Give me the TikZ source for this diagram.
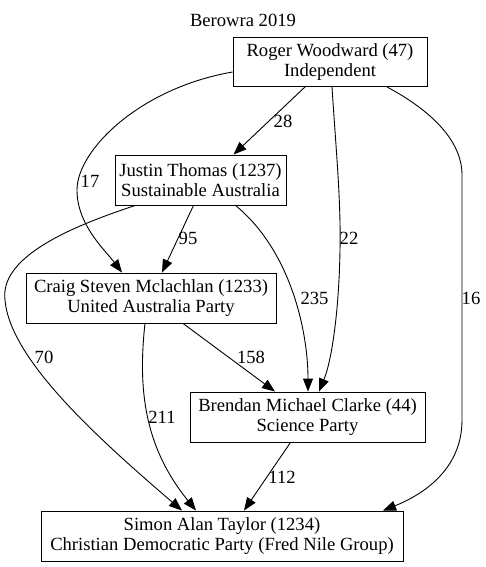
\documentclass[tikz,border=0pt]{standalone}
\usepackage{fontspec}
\setmainfont{Liberation Serif}
\newfontfamily\tnr{Liberation Serif}
\usetikzlibrary{arrows.meta}
\tikzset{
  cand/.style={draw, line width=0.9pt, rectangle, align=center, inner sep=0pt,
    font=\tnr\fontsize{18.6}{20.5}\selectfont},
  lbl/.style={inner sep=0pt, font=\tnr\fontsize{18.6}{20.5}\selectfont},
  edge/.style={line width=0.9pt, -{Triangle[length=13pt,width=10pt]}}
}
\begin{document}
\begin{tikzpicture}[x=1pt,y=-1pt]
\useasboundingbox (0,0) rectangle (486,567);
\node[lbl] (title) at (243,20) {Berowra 2019};
\node[cand, minimum width=194pt, minimum height=49pt] (roger) at (330,62) {Roger Woodward (47)\\Independent};
\node[cand, minimum width=171pt, minimum height=50pt] (justin) at (200.5,180) {Justin Thomas (1237)\\Sustainable Australia};
\node[cand, minimum width=250pt, minimum height=50pt] (craig) at (151,298) {Craig Steven Mclachlan (1233)\\United Australia Party};
\node[cand, minimum width=235pt, minimum height=50pt] (brendan) at (307.5,417) {Brendan Michael Clarke (44)\\Science Party};
\node[cand, minimum width=362pt, minimum height=50pt] (simon) at (222,536) {Simon Alan Taylor (1234)\\Christian Democratic Party (Fred Nile Group)};

% edges
\draw[edge] ([xshift=-25pt]roger.south) -- ([xshift=33pt]justin.north);
\draw[edge] ([yshift=-10pt]roger.west) .. controls (140,88) and (77,150) .. (77,190)
  .. controls (77,225) and (105,250) .. ([xshift=-29pt]craig.north);
\draw[edge] ([xshift=2pt]roger.south) .. controls (336,150) and (341,200) .. (340,250)
  .. controls (339,310) and (332,360) .. ([xshift=11.5pt]brendan.north);
\draw[edge] ([xshift=57pt]roger.south) .. controls (430,110) and (462,140) .. (462,175)
  -- (462,420) .. controls (462,470) and (422,495) .. ([xshift=161pt]simon.north);
\draw[edge] ([xshift=-7pt]justin.south) -- ([xshift=11pt]craig.north);
\draw[edge] ([xshift=35pt]justin.south) .. controls (290,250) and (308,330) .. ([xshift=0.5pt]brendan.north);
\draw[edge] ([xshift=-65pt]justin.south) .. controls (60,230) and (0,260) .. (5,300)
  .. controls (10,360) and (100,440) .. ([xshift=-40pt]simon.north);
\draw[edge] ([xshift=32pt]craig.south) -- ([xshift=-32.5pt]brendan.north);
\draw[edge] ([xshift=-6pt]craig.south) .. controls (137,395) and (147,450) .. ([xshift=-26pt]simon.north);
\draw[edge] ([xshift=-17pt]brendan.south) -- ([xshift=22pt]simon.north);

% labels
\node[lbl] (l28) at (283,121) {28};
\node[lbl] (l17) at (90,181) {17};
\node[lbl] (l22) at (349,238) {22};
\node[lbl] (l16) at (471,298) {16};
\node[lbl] (l95) at (188,238) {95};
\node[lbl] (l235) at (314.5,298) {235};
\node[lbl] (l70) at (44,357) {70};
\node[lbl] (l158) at (251,357) {158};
\node[lbl] (l211) at (162,417) {211};
\node[lbl] (l112) at (282,477) {112};
\end{tikzpicture}
\end{document}
